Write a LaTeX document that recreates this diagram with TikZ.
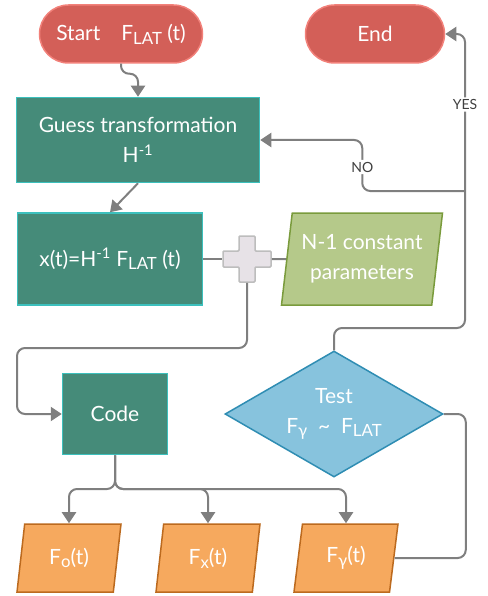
\documentclass[tikz,border=0pt]{standalone}
\usepackage{fontspec}
\setmainfont{Lato}
\usepackage{tikz}
\usetikzlibrary{shapes.geometric,arrows.meta}

\definecolor{pillfill}{HTML}{D35F58}
\definecolor{pilldraw}{HTML}{F2817A}
\definecolor{tealfill}{HTML}{458B79}
\definecolor{tealdraw}{HTML}{3CC0BD}
\definecolor{greenfill}{HTML}{B5C98A}
\definecolor{greendraw}{HTML}{7A9B3C}
\definecolor{bluefill}{HTML}{87C3DD}
\definecolor{bluedraw}{HTML}{2F8DB3}
\definecolor{orangefill}{HTML}{F6A95E}
\definecolor{orangedraw}{HTML}{BC6A1E}
\definecolor{plusfill}{HTML}{E7E2E7}
\definecolor{plusdraw}{HTML}{BDBDBD}
\definecolor{linegray}{HTML}{7F7F7F}

\newcommand{\lsub}[1]{\raisebox{-0.35ex}{\scalebox{0.8}{#1}}}

\begin{document}
\begin{tikzpicture}[x=1pt,y=-1pt,
    every node/.style={font=\fontsize{21}{30}\selectfont,text=white,align=center,line width=1.5pt},
    pill/.style={draw=pilldraw,fill=pillfill,rounded corners=29pt,minimum height=58pt},
    tealbox/.style={draw=tealdraw,fill=tealfill},
    inbox/.style={trapezium,trapezium stretches body,draw=#1draw,fill=#1fill},
    testbox/.style={diamond,shape aspect=1.73,draw=bluedraw,fill=bluefill,minimum width=218pt,minimum height=126pt,inner sep=0pt},
    plusbox/.style={draw=plusdraw,fill=plusfill,line width=1.5pt,rounded corners=1pt},
    line/.style={draw=linegray,line width=2pt,rounded corners=8pt},
    arr/.style={line,-{Triangle[width=14pt,length=11pt]}},
    lbl/.style={fill=white,text=black!75,font=\fontsize{14}{16}\selectfont,inner sep=2pt}]
  \useasboundingbox (0,0) rectangle (487,596);

  % terminals
  \node[pill,minimum width=163pt] (start) at (121,34) {Start\quad F\lsub{LAT} (t)};
  \node[pill,minimum width=139pt] (end) at (375,34) {End};

  % process boxes
  \node[tealbox,minimum width=243pt,minimum height=85pt] (guess) at (138,140) {Guess transformation\\H\textsuperscript{-1}};
  \node[tealbox,minimum width=185pt,minimum height=92pt] (xt) at (110,259) {x(t)=H\textsuperscript{-1} F\lsub{LAT} (t)};
  \node[tealbox,minimum width=105pt,minimum height=81pt] (code) at (115,414) {Code};

  % inputs / outputs
  \node[inbox=green,trapezium left angle=79,trapezium right angle=101,minimum width=161pt,minimum height=92pt] (param) at (362,259) {N-1 constant\\parameters};
  \node[inbox=orange,trapezium left angle=74,trapezium right angle=106,minimum width=104pt,minimum height=68pt] (fo) at (69,558) {F\lsub{o}(t)};
  \node[inbox=orange,trapezium left angle=74,trapezium right angle=106,minimum width=104pt,minimum height=68pt] (fx) at (208,558) {F\lsub{x}(t)};
  \node[inbox=orange,trapezium left angle=74,trapezium right angle=106,minimum width=104pt,minimum height=68pt] (fy) at (346,558) {F\lsub{γ}(t)};

  % decision
  \node[testbox] (test) at (334,414) {Test\\F\lsub{γ}\ \ \textasciitilde\ \ F\lsub{LAT}};

  % summing junction
  \node[minimum width=48pt,minimum height=46pt,inner sep=0pt] (plus) at (247,259) {};
  \path[plusbox] (plus) ++(-24,-8) -- ++(16,0) -- ++(0,-15) -- ++(16,0) -- ++(0,15) -- ++(16,0)
    -- ++(0,16) -- ++(-16,0) -- ++(0,15) -- ++(-16,0) -- ++(0,-15) -- ++(-16,0) -- cycle;

  \coordinate (split) at (115,489);
  \coordinate (bus) at (465,328);
  \coordinate (nojoin) at (465,191);

  % connectors
  \draw[arr] (start.south) -- ++(0,10) -| (guess.north);
  \draw[arr] (guess.south) -- (xt.north);
  \draw[line] (xt.east) -- (plus.west);
  \draw[line] (plus.east) -- (param.west);
  \draw[arr] (plus.south) |- (17,348) |- (code.west);
  \foreach \o in {fo,fx,fy}
    \draw[arr] (code.south) -- (split) -| (\o.north -| \o);
  \draw[line] (fy.east) -| ([xshift=22pt]test.east) -- (test.east);
  \draw[arr] (test.north) |- (bus) |- node[pos=0.38,lbl] {YES} (end.east);
  \draw[arr] (nojoin) -| node[pos=0.735,lbl] {NO} ([xshift=102pt]guess.east) -- (guess.east);
\end{tikzpicture}
\end{document}
